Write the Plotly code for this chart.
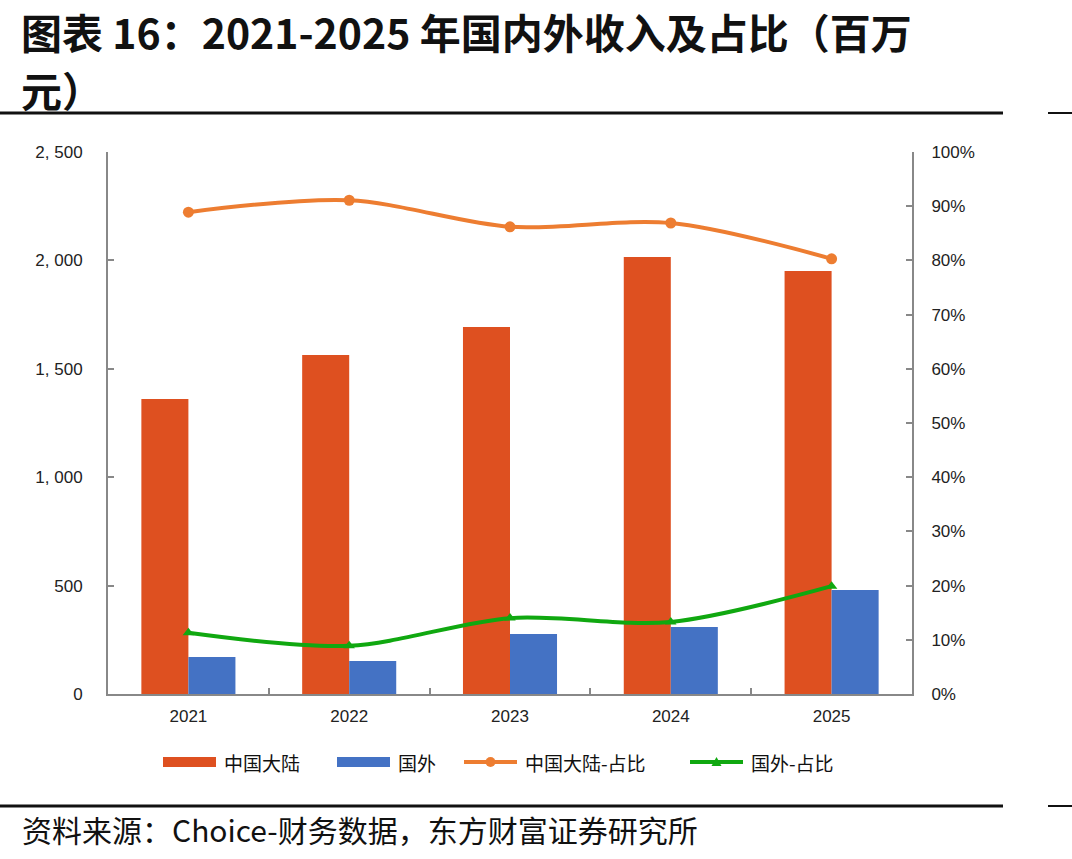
import plotly.graph_objects as go

years = ["2021", "2022", "2023", "2024", "2025"]
mainland = [1361, 1564, 1693, 2016, 1951]
overseas = [171, 152, 277, 309, 480]
mainland_pct = [0.889, 0.911, 0.862, 0.869, 0.803]
overseas_pct = [0.113, 0.089, 0.140, 0.133, 0.199]

left_ticks = [0, 500, 1000, 1500, 2000, 2500]
left_ticktext = ["0", "500", "1, 000", "1, 500", "2, 000", "2, 500"]
right_ticks = [i / 10 for i in range(11)]
right_ticktext = [f"{i*10}%" for i in range(11)]

series_names = ["中国大陆", "国外", "中国大陆-占比", "国外-占比"]
title_lines = ["图表 16：2021-2025 年国内外收入及占比（百万", "元）"]
source = "资料来源：Choice-财务数据，东方财富证券研究所"

FONT = "Noto Sans CJK SC, Liberation Sans, sans-serif"
NUMFONT = "Liberation Sans, Arial, sans-serif"
AX = "#888888"
C_MAIN = "#DE5020"
C_OVER = "#4472C4"
C_MPCT = "#ED7D31"
C_OPCT = "#10A810"

W, H = 1072, 859
L, R, T, B = 108, 160, 152, 165

fig = go.Figure()
fig.add_trace(go.Bar(x=years, y=mainland, name=series_names[0], marker_color=C_MAIN,
                     marker_line_width=0))
fig.add_trace(go.Bar(x=years, y=overseas, name=series_names[1], marker_color=C_OVER,
                     marker_line_width=0))
fig.add_trace(go.Scatter(x=years, y=mainland_pct, name=series_names[2], yaxis="y2",
                         mode="lines+markers",
                         line=dict(color=C_MPCT, width=4, shape="spline", smoothing=0.9),
                         marker=dict(symbol="circle", size=11, color=C_MPCT)))
fig.add_trace(go.Scatter(x=years, y=overseas_pct, name=series_names[3], yaxis="y2",
                         mode="lines+markers",
                         line=dict(color=C_OPCT, width=4, shape="spline", smoothing=0.9),
                         marker=dict(symbol="triangle-up", size=10, color=C_OPCT)))

fig.update_layout(
    width=W, height=H,
    margin=dict(l=L, r=R, t=T, b=B),
    paper_bgcolor="white", plot_bgcolor="white",
    barmode="group", bargap=0.415, bargroupgap=0,
    font=dict(family=FONT, size=17, color="#222222"),
    showlegend=False,
    xaxis=dict(type="category", showline=True, linecolor=AX, linewidth=2,
               ticks="inside", tickson="boundaries", ticklen=6, tickcolor=AX, tickwidth=2,
               showgrid=False, tickfont=dict(size=17, family=NUMFONT, color="#222222"),
               ticklabelstandoff=6),
    yaxis=dict(range=[0, 2500], tickvals=left_ticks, ticktext=left_ticktext,
               showline=True, linecolor=AX, linewidth=2, ticks="inside", ticklen=6,
               tickcolor=AX, tickwidth=2, showgrid=False, zeroline=False,
               tickfont=dict(size=17, family=NUMFONT, color="#222222"), ticklabelstandoff=20),
    yaxis2=dict(range=[0, 1], tickvals=right_ticks, ticktext=right_ticktext, overlaying="y",
                side="right", showline=True, linecolor=AX, linewidth=2, ticks="inside", ticklen=6,
                tickcolor=AX, tickwidth=2, showgrid=False, zeroline=False,
                tickfont=dict(size=17, family=NUMFONT, color="#222222"), ticklabelstandoff=14),
)


def px_x(p):
    return (p - L) / (W - L - R)


def px_y(p):
    return (H - B - p) / (H - T - B)


for i, (line, top) in enumerate(zip(title_lines, (0, 58))):
    fig.add_annotation(text="<b>" + line + "</b>",
                       xref="paper", yref="paper", align="left", borderpad=0,
                       x=px_x(20), y=px_y(top), xanchor="left", yanchor="top", showarrow=False,
                       font=dict(size=41, family=FONT, color="#111111"))
fig.add_annotation(text=source, xref="paper", yref="paper",
                   x=px_x(20), y=px_y(829), xanchor="left", yanchor="middle", showarrow=False,
                   font=dict(size=30, family=FONT, color="#111111"))

for yy in (113, 806):
    fig.add_shape(type="line", xref="paper", yref="paper", x0=px_x(0), x1=px_x(1003),
                  y0=px_y(yy), y1=px_y(yy), line=dict(color="#111111", width=3))
    fig.add_shape(type="line", xref="paper", yref="paper", x0=px_x(1048), x1=px_x(1072),
                  y0=px_y(yy), y1=px_y(yy), line=dict(color="#111111", width=2))

# custom legend
LY = 762
legend_items = [
    (series_names[0], "bar", C_MAIN, 163, None),
    (series_names[1], "bar", C_OVER, 337, None),
    (series_names[2], "line", C_MPCT, 464, "circle"),
    (series_names[3], "line", C_OPCT, 690, "triangle"),
]
for name, kind, col, x0, mk in legend_items:
    x1 = x0 + 53
    if kind == "bar":
        fig.add_shape(type="rect", xref="paper", yref="paper", x0=px_x(x0), x1=px_x(x1),
                      y0=px_y(LY + 5), y1=px_y(LY - 5), fillcolor=col, line=dict(width=0))
    else:
        fig.add_shape(type="line", xref="paper", yref="paper", x0=px_x(x0), x1=px_x(x1),
                      y0=px_y(LY), y1=px_y(LY), line=dict(color=col, width=4))
        cx = (x0 + x1) / 2
        if mk == "circle":
            fig.add_shape(type="circle", xref="paper", yref="paper", x0=px_x(cx - 5), x1=px_x(cx + 5),
                          y0=px_y(LY + 5), y1=px_y(LY - 5), fillcolor=col, line=dict(width=0))
        else:
            fig.add_shape(type="path", xref="paper", yref="paper",
                          path=f"M {px_x(cx-5)} {px_y(LY+4)} L {px_x(cx+5)} {px_y(LY+4)} L {px_x(cx)} {px_y(LY-5)} Z",
                          fillcolor=col, line=dict(width=0))
    fig.add_annotation(text=name, xref="paper", yref="paper", x=px_x(x1 + 6), y=px_y(LY),
                       xanchor="left", yanchor="middle", showarrow=False,
                       font=dict(size=19, family=FONT, color="#111111"))

fig.write_html("out.html")
